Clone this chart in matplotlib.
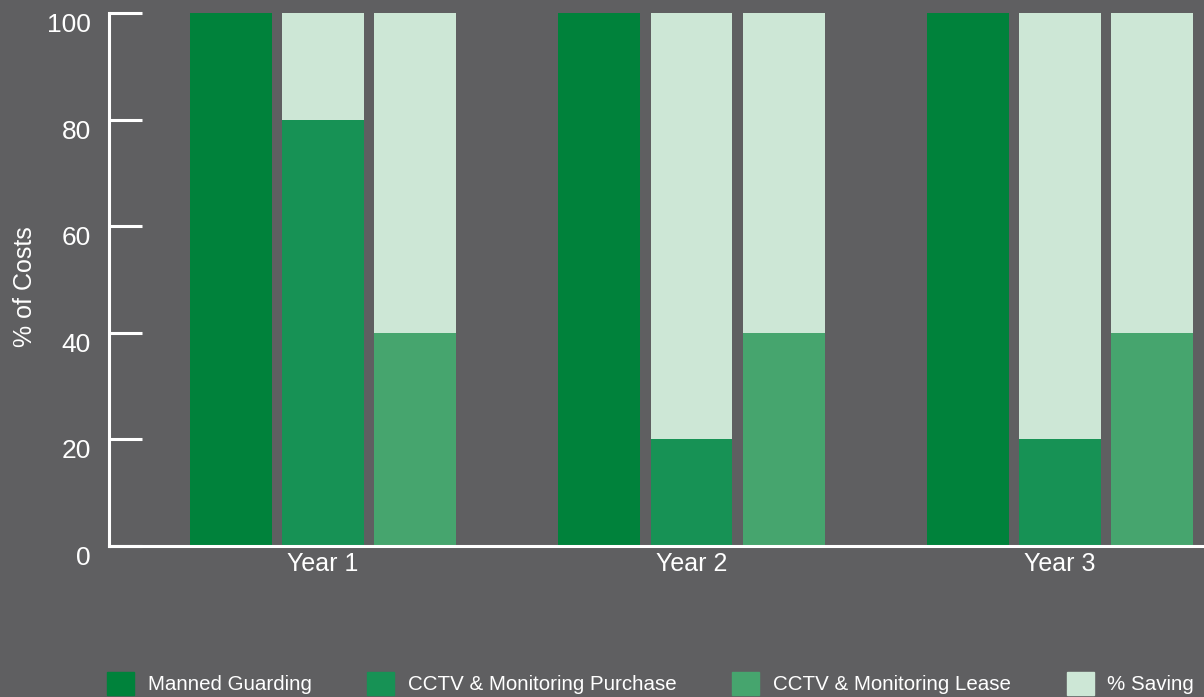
import numpy as np
import matplotlib
matplotlib.use("Agg")
import matplotlib.pyplot as plt
from matplotlib.patches import Patch

# =============================================================================
# Data
# =============================================================================

CATEGORIES = ["Year 1", "Year 2", "Year 3"]

MANNED = [100, 100, 100]
PURCHASE = [80, 20, 20]
PURCHASE_SAVING = [20, 80, 80]
LEASE = [40, 40, 40]
LEASE_SAVING = [60, 60, 60]

SERIES_NAMES = ["Manned Guarding", "CCTV & Monitoring Purchase",
                "CCTV & Monitoring Lease", "% Saving"]
Y_TICKS = [0, 20, 40, 60, 80, 100]

# =============================================================================
# Style
# =============================================================================

BG = "#5f5f61"
C_MANNED = "#00823b"
C_PURCHASE = "#179255"
C_LEASE = "#46a56e"
C_SAVING = "#cde7d6"

plt.rcParams["font.family"] = ["Liberation Sans", "DejaVu Sans"]

fig = plt.figure(figsize=(12.04, 6.97), dpi=100, facecolor=BG)
ax = fig.add_axes([109 / 1204, (697 - 546) / 697, 1 - 109 / 1204, 533 / 697])
ax.set_facecolor(BG)

x = np.arange(len(CATEGORIES))
w = 0.2225
off = 0.25

ax.bar(x - off, MANNED, w, color=C_MANNED)
ax.bar(x, PURCHASE, w, color=C_PURCHASE)
ax.bar(x, PURCHASE_SAVING, w, bottom=PURCHASE, color=C_SAVING)
ax.bar(x + off, LEASE, w, color=C_LEASE)
ax.bar(x + off, LEASE_SAVING, w, bottom=LEASE, color=C_SAVING)

ax.set_xlim(-0.581, 2.391)
ax.set_ylim(0, 100)

ax.set_xticks(x)
ax.set_xticklabels(CATEGORIES)
ax.set_yticks(Y_TICKS)

for s in ["top", "right"]:
    ax.spines[s].set_visible(False)
for s in ["left", "bottom"]:
    ax.spines[s].set_color("white")
    ax.spines[s].set_linewidth(2.2)

ax.tick_params(axis="y", direction="in", length=24, width=2.2,
               colors="white", labelsize=19, pad=13)
ax.tick_params(axis="x", length=0, colors="white", labelsize=18, pad=4)
for t in ax.get_yticklabels():
    t.set_verticalalignment("top")

ax.set_ylabel("% of Costs", color="white", fontsize=18)
ax.yaxis.set_label_coords(-0.066, 0.486)

handles = [Patch(color=c) for c in [C_MANNED, C_PURCHASE, C_LEASE, C_SAVING]]
fig.legend(handles, SERIES_NAMES, loc="upper left",
           bbox_to_anchor=(107 / 1204, 25 / 697), ncol=4, frameon=False,
           fontsize=14.8, labelcolor="white", borderpad=0, borderaxespad=0,
           handlelength=1.31, handleheight=1.31, handletextpad=0.68,
           columnspacing=2.7)

fig.savefig("out.png", dpi=100, facecolor=BG)
